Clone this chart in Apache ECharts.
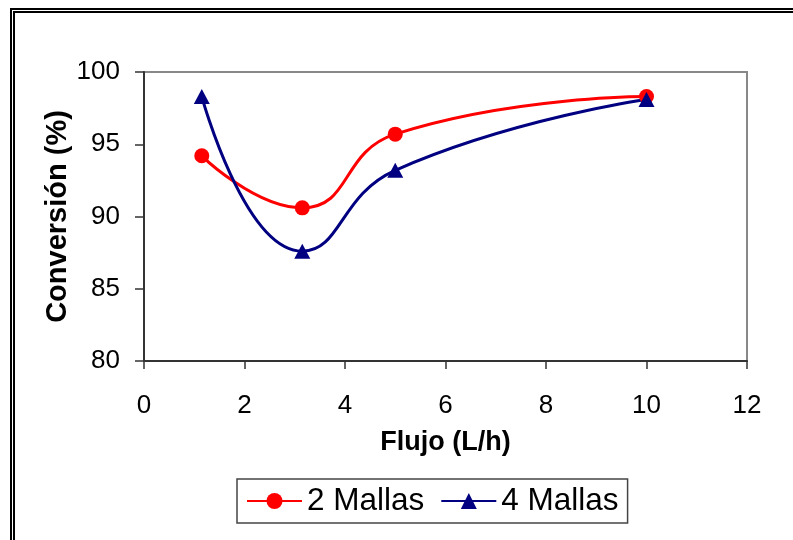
<!DOCTYPE html>
<html>
<head>
<meta charset="utf-8">
<script src="https://cdn.jsdelivr.net/npm/echarts@6/dist/echarts.min.js"></script>
<style>
  html, body { margin: 0; padding: 0; background: #fff; }
  #chart { width: 793px; height: 540px; }
</style>
</head>
<body>
<div id="chart"></div>
<script>
// Flow rate (L/h) for each run
const flujo = [1.15, 3.15, 5, 10];
// Conversion (%) per mesh configuration
const conv2Mallas = [94.2, 90.6, 95.7, 98.3];
const conv4Mallas = [98.3, 87.6, 93.2, 98.1];
const seriesNames = ['2 Mallas', '4 Mallas'];
const xTicks = { min: 0, max: 12, interval: 2 };
const yTicks = { min: 80, max: 100, interval: 5 };

const pairs = (xs, ys) => xs.map((x, i) => [x, ys[i]]);
const FONT = 'Liberation Sans, Arial, sans-serif';

const chart = echarts.init(document.getElementById('chart'), null, { renderer: 'canvas' });
chart.setOption({
  animation: false,
  backgroundColor: '#ffffff',
  textStyle: { fontFamily: FONT },
  grid: {
    left: 144, right: 46, top: 72, bottom: 179,
    show: true, borderColor: '#888888', borderWidth: 2, backgroundColor: 'transparent'
  },
  xAxis: {
    type: 'value',
    min: xTicks.min, max: xTicks.max, interval: xTicks.interval,
    name: 'Flujo (L/h)',
    nameLocation: 'middle',
    nameGap: 68,
    nameTextStyle: { fontSize: 27, fontWeight: 'bold', color: '#000', fontFamily: FONT },
    axisLine: { show: true, onZero: false, lineStyle: { color: '#333', width: 2 } },
    axisTick: { show: true, length: 8, lineStyle: { color: '#333', width: 1.5 } },
    axisLabel: { fontSize: 26, color: '#000', margin: 32, fontFamily: FONT },
    splitLine: { show: false }
  },
  yAxis: {
    type: 'value',
    min: yTicks.min, max: yTicks.max, interval: yTicks.interval,
    name: 'Conversión (%)',
    nameLocation: 'middle',
    nameRotate: 90,
    nameGap: 72,
    nameMoveOverlap: false,
    nameTextStyle: { fontSize: 29, fontWeight: 'bold', color: '#000', fontFamily: FONT },
    axisLine: { show: true, onZero: false, lineStyle: { color: '#333', width: 2 } },
    axisTick: { show: true, length: 9, lineStyle: { color: '#333', width: 1.5 } },
    axisLabel: { fontSize: 26, color: '#000', margin: 24, fontFamily: FONT },
    splitLine: { show: false }
  },
  legend: {
    left: 237, top: 479,
    orient: 'horizontal',
    data: seriesNames,
    itemWidth: 55, itemHeight: 20, itemGap: 16,
    padding: [6, 9, 6, 9],
    borderColor: '#444', borderWidth: 1.5,
    textStyle: { fontSize: 31.5, color: '#000', fontFamily: FONT }
  },
  graphic: [
    { type: 'rect', silent: true, z: 100,
      shape: { x: 11, y: 9, width: 800, height: 560 },
      style: { fill: 'none', stroke: '#000', lineWidth: 2 } },
    { type: 'rect', silent: true, z: 100,
      shape: { x: 14, y: 12, width: 800, height: 560 },
      style: { fill: 'none', stroke: '#000', lineWidth: 2 } }
  ],
  series: [
    {
      name: seriesNames[0], type: 'line', smooth: 0.5,
      data: pairs(flujo, conv2Mallas),
      symbol: 'circle', symbolSize: 15,
      lineStyle: { color: '#ff0000', width: 3 },
      itemStyle: { color: '#ff0000' }
    },
    {
      name: seriesNames[1], type: 'line', smooth: 0.5,
      data: pairs(flujo, conv4Mallas),
      symbol: 'triangle', symbolSize: [16, 15],
      lineStyle: { color: '#000080', width: 3 },
      itemStyle: { color: '#000080' }
    }
  ]
});
</script>
</body>
</html>
